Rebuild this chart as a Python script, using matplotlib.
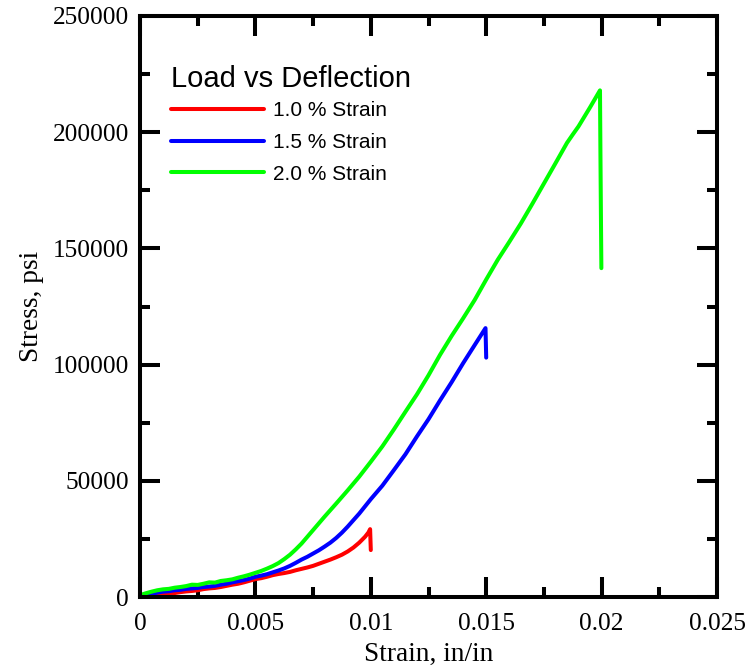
import matplotlib
matplotlib.use("Agg")
import matplotlib.pyplot as plt
from matplotlib.ticker import MultipleLocator

# Stress-strain curves for three strain levels (strain in in/in, stress in psi)
strain_10 = [0, 0.00025, 0.0005, 0.00075, 0.001, 0.00125, 0.0015, 0.00175,
             0.002, 0.00225, 0.0025, 0.00275, 0.003, 0.00325, 0.0035, 0.00375,
             0.004, 0.00425, 0.0045, 0.00475, 0.005, 0.00525, 0.0055, 0.00575,
             0.006, 0.00625, 0.0065, 0.00675, 0.007, 0.00725, 0.0075, 0.00775,
             0.008, 0.00825, 0.0085, 0.00875, 0.009, 0.00925, 0.0095, 0.00975,
             0.0099, 0.00997, 0.01]
stress_10 = [0, 200, 500, 900, 1300, 1500, 1700, 2100,
             2400, 2600, 2900, 3400, 3700, 3900, 4300, 4800,
             5300, 5700, 6300, 7000, 7700, 8100, 8700, 9400,
             9900, 10300, 10800, 11500, 12100, 12700, 13400, 14300,
             15200, 16100, 17100, 18200, 19600, 21300, 23400, 25900,
             27800, 29200, 20200]

strain_15 = [0, 0.00025, 0.0005, 0.00075, 0.001, 0.00125, 0.0015, 0.00175,
             0.002, 0.00225, 0.0025, 0.00275, 0.003, 0.00325, 0.0035, 0.00375,
             0.004, 0.00425, 0.0045, 0.00475, 0.005, 0.00525, 0.0055, 0.00575,
             0.006, 0.00625, 0.0065, 0.00675, 0.007, 0.00725, 0.0075, 0.00775,
             0.008, 0.00825, 0.0085, 0.00875, 0.009, 0.0095, 0.01, 0.0105,
             0.011, 0.0115, 0.012, 0.0125, 0.013, 0.0135, 0.014, 0.0145,
             0.01497, 0.015]
stress_15 = [0, 700, 1300, 1900, 2300, 2500, 2900, 3100,
             3500, 3700, 3900, 4300, 4500, 4800, 5300, 5700,
             6300, 6800, 7300, 7900, 8700, 9200, 9800, 10600,
             11400, 12300, 13400, 14700, 16100, 17300, 18700, 20100,
             21700, 23400, 25400, 27700, 30300, 35900, 42100, 47900,
             54600, 61400, 69100, 76500, 84600, 92400, 100600, 108400,
             115700, 103000]

strain_20 = [0, 0.00025, 0.0005, 0.00075, 0.001, 0.00125, 0.0015, 0.00175,
             0.002, 0.00225, 0.0025, 0.00275, 0.003, 0.00325, 0.0035, 0.00375,
             0.004, 0.00425, 0.0045, 0.00475, 0.005, 0.00525, 0.0055, 0.00575,
             0.006, 0.00625, 0.0065, 0.00675, 0.007, 0.00725, 0.0075, 0.00775,
             0.008, 0.0085, 0.009, 0.0095, 0.01, 0.0105, 0.011, 0.0115,
             0.012, 0.0125, 0.013, 0.0135, 0.014, 0.0145, 0.015, 0.0155,
             0.016, 0.0165, 0.017, 0.0175, 0.018, 0.0185, 0.01875, 0.019,
             0.0195, 0.01993, 0.01995, 0.01997, 0.01999]
stress_20 = [800, 1600, 2300, 2900, 3300, 3500, 4000, 4300,
             4700, 5300, 5200, 5700, 6300, 6200, 6900, 7200,
             7600, 8300, 8900, 9600, 10400, 11200, 12200, 13300,
             14600, 16300, 18200, 20500, 23000, 25900, 28800, 31700,
             34600, 40200, 45900, 51800, 58200, 64800, 72100, 79700,
             87200, 95400, 104200, 112300, 119900, 127800, 136600, 145100,
             152800, 160700, 169200, 177900, 186600, 195400, 199000, 202500,
             210700, 218000, 190000, 165000, 141500]

series = [
    ("1.0 % Strain", strain_10, stress_10, "#ff0000"),
    ("1.5 % Strain", strain_15, stress_15, "#0000ff"),
    ("2.0 % Strain", strain_20, stress_20, "#00ff00"),
]

fig = plt.figure(figsize=(7.52, 6.67), dpi=100)
ax = fig.add_axes([140 / 752, 1 - 597 / 667, 577 / 752, 581 / 667])

for label, x, y, color in series:
    ax.plot(x, y, color=color, lw=2.9, solid_capstyle="round",
            solid_joinstyle="round", label=label)

ax.set_xlim(0, 0.025)
ax.set_ylim(0, 250000)
ax.xaxis.set_minor_locator(MultipleLocator(0.0025))
ax.yaxis.set_minor_locator(MultipleLocator(25000))
ax.set_xticks([0, 0.005, 0.01, 0.015, 0.02, 0.025])
ax.set_xticklabels(["0", "0.005", "0.01", "0.015", "0.02", "0.025"])
ax.set_yticks([0, 50000, 100000, 150000, 200000, 250000])
ax.set_yticklabels(["0", "50000", "100000", "150000", "200000", "250000"])

serif = "Liberation Serif"
ax.tick_params(which="both", direction="in", top=True, right=True, width=2.9)
ax.tick_params(which="major", length=14.5)
ax.tick_params(which="minor", length=7.2)
ax.tick_params(axis="x", which="major", pad=11.5)
ax.tick_params(axis="y", which="major", pad=8)
for lab in ax.get_xticklabels() + ax.get_yticklabels():
    lab.set_fontfamily(serif)
    lab.set_fontsize(18.3)
for sp in ax.spines.values():
    sp.set_linewidth(2.9)

ax.set_xlabel("Strain, in/in", fontfamily=serif, fontsize=19.7, labelpad=5)
ax.set_ylabel("Stress, psi", fontfamily=serif, fontsize=19.7, labelpad=6)

leg = ax.legend(loc="upper left", bbox_to_anchor=(31 / 577, 1 - 49 / 581),
                frameon=False, title="Load vs Deflection",
                prop={"family": "Liberation Sans", "size": 15},
                title_fontproperties={"family": "Liberation Sans", "size": 21},
                alignment="left", handlelength=4.45, handletextpad=0.45,
                labelspacing=0.62, borderpad=0, borderaxespad=0)
# tighter gap between the legend title and its entries
leg._legend_box.sep = 5.7
for h in leg.get_lines():
    h.set_linewidth(2.9)

fig.savefig("out.png", dpi=100)
